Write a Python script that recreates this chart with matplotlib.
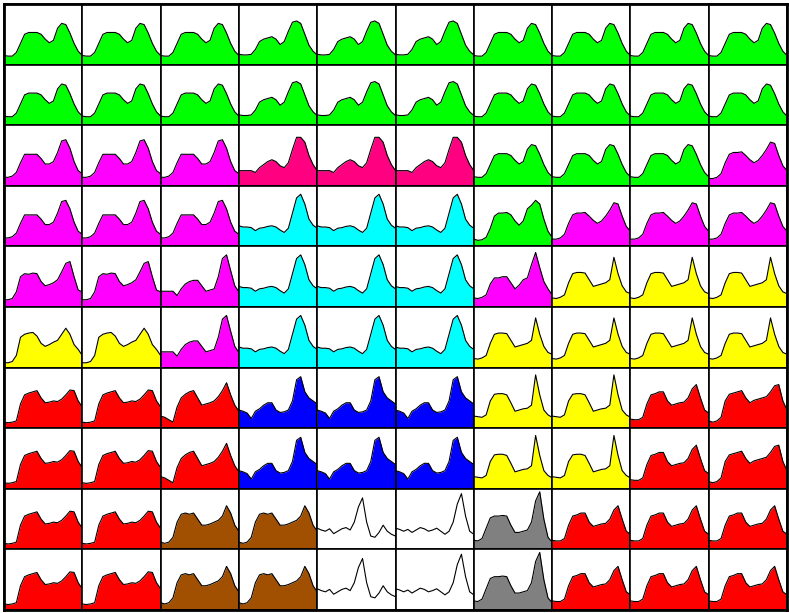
import numpy as np
from matplotlib import pyplot as plt

# codebook profiles (fraction of cell height, 20 samples each)
green_a = [0.15, 0.14, 0.14, 0.20, 0.35, 0.50, 0.53, 0.53, 0.53, 0.50, 0.42, 0.36, 0.40, 0.60, 0.68, 0.66, 0.52, 0.35, 0.22, 0.15]
green_b = [0.17, 0.16, 0.16, 0.17, 0.25, 0.38, 0.42, 0.44, 0.46, 0.42, 0.33, 0.38, 0.55, 0.70, 0.72, 0.68, 0.50, 0.32, 0.22, 0.16]
green_c = [0.12, 0.10, 0.11, 0.15, 0.30, 0.50, 0.55, 0.55, 0.56, 0.52, 0.42, 0.35, 0.42, 0.62, 0.68, 0.76, 0.70, 0.45, 0.25, 0.15]
magenta_a = [0.14, 0.14, 0.16, 0.22, 0.38, 0.52, 0.52, 0.52, 0.52, 0.45, 0.36, 0.36, 0.40, 0.55, 0.74, 0.76, 0.62, 0.40, 0.25, 0.20]
magenta_b = [0.12, 0.12, 0.14, 0.20, 0.38, 0.52, 0.55, 0.55, 0.56, 0.50, 0.43, 0.38, 0.42, 0.50, 0.60, 0.72, 0.70, 0.50, 0.33, 0.25]
magenta_c = [0.12, 0.12, 0.14, 0.25, 0.50, 0.55, 0.54, 0.56, 0.55, 0.42, 0.35, 0.37, 0.40, 0.45, 0.58, 0.72, 0.75, 0.50, 0.28, 0.25]
magenta_d = [0.26, 0.26, 0.26, 0.26, 0.19, 0.30, 0.38, 0.42, 0.44, 0.44, 0.35, 0.26, 0.28, 0.30, 0.50, 0.80, 0.86, 0.60, 0.35, 0.25]
magenta_e = [0.15, 0.14, 0.16, 0.20, 0.38, 0.48, 0.48, 0.50, 0.50, 0.40, 0.30, 0.36, 0.45, 0.48, 0.70, 0.90, 0.65, 0.42, 0.30, 0.20]
pink = [0.25, 0.25, 0.25, 0.25, 0.22, 0.30, 0.35, 0.40, 0.43, 0.40, 0.33, 0.30, 0.38, 0.60, 0.80, 0.80, 0.72, 0.50, 0.35, 0.25]
cyan = [0.34, 0.32, 0.32, 0.31, 0.26, 0.30, 0.31, 0.33, 0.34, 0.32, 0.27, 0.23, 0.30, 0.55, 0.80, 0.86, 0.70, 0.45, 0.35, 0.30]
yellow_a = [0.15, 0.14, 0.16, 0.20, 0.40, 0.55, 0.57, 0.57, 0.56, 0.45, 0.34, 0.36, 0.38, 0.40, 0.45, 0.82, 0.55, 0.35, 0.25, 0.22]
yellow_b = [0.08, 0.08, 0.10, 0.20, 0.50, 0.55, 0.57, 0.58, 0.52, 0.40, 0.35, 0.38, 0.42, 0.45, 0.55, 0.65, 0.55, 0.38, 0.30, 0.20]
yellow_c = [0.20, 0.19, 0.18, 0.22, 0.45, 0.56, 0.57, 0.57, 0.55, 0.42, 0.28, 0.30, 0.32, 0.33, 0.38, 0.88, 0.55, 0.30, 0.22, 0.18]
red_a = [0.10, 0.09, 0.10, 0.12, 0.40, 0.55, 0.58, 0.60, 0.62, 0.50, 0.42, 0.43, 0.45, 0.44, 0.48, 0.55, 0.63, 0.62, 0.45, 0.35]
red_b = [0.20, 0.18, 0.14, 0.10, 0.35, 0.50, 0.56, 0.60, 0.62, 0.50, 0.38, 0.40, 0.42, 0.45, 0.52, 0.62, 0.75, 0.55, 0.38, 0.28]
red_c = [0.15, 0.14, 0.14, 0.18, 0.40, 0.55, 0.57, 0.60, 0.60, 0.45, 0.38, 0.40, 0.42, 0.43, 0.50, 0.65, 0.72, 0.50, 0.30, 0.25]
red_d = [0.12, 0.10, 0.12, 0.18, 0.45, 0.56, 0.58, 0.60, 0.62, 0.50, 0.42, 0.46, 0.48, 0.50, 0.52, 0.60, 0.70, 0.72, 0.45, 0.30]
blue = [0.30, 0.28, 0.25, 0.16, 0.28, 0.32, 0.38, 0.42, 0.42, 0.30, 0.26, 0.27, 0.30, 0.45, 0.80, 0.85, 0.60, 0.50, 0.45, 0.40]
brown = [0.12, 0.10, 0.12, 0.20, 0.45, 0.58, 0.60, 0.58, 0.60, 0.50, 0.40, 0.40, 0.42, 0.45, 0.48, 0.55, 0.72, 0.60, 0.40, 0.30]
white_a = [0.35, 0.32, 0.30, 0.34, 0.26, 0.30, 0.34, 0.36, 0.32, 0.45, 0.70, 0.85, 0.45, 0.22, 0.20, 0.28, 0.40, 0.30, 0.25, 0.22]
white_b = [0.35, 0.33, 0.30, 0.33, 0.28, 0.32, 0.36, 0.34, 0.30, 0.32, 0.35, 0.30, 0.25, 0.30, 0.45, 0.75, 0.92, 0.55, 0.30, 0.25]
gray = [0.15, 0.14, 0.18, 0.35, 0.52, 0.55, 0.55, 0.56, 0.55, 0.40, 0.28, 0.28, 0.30, 0.32, 0.45, 0.80, 0.95, 0.50, 0.20, 0.12]

profiles = {
    'ga': green_a, 'gb': green_b, 'gc': green_c,
    'ma': magenta_a, 'mb': magenta_b, 'mc': magenta_c, 'md': magenta_d, 'me': magenta_e,
    'pk': pink, 'cy': cyan,
    'ya': yellow_a, 'yb': yellow_b, 'yc': yellow_c,
    'ra': red_a, 'rb': red_b, 'rc': red_c, 'rd': red_d,
    'bl': blue, 'br': brown, 'wa': white_a, 'wb': white_b, 'gr': gray,
}

colors = {
    'g': '#00ff00', 'm': '#ff00ff', 'p': '#ff0080', 'c': '#00ffff', 'y': '#ffff00',
    'r': '#ff0000', 'b': '#0000ff', 'n': '#a05000', 'w': '#ffffff', 'k': '#808080',
}

# which profile sits in each cell of the 10x10 map
layout = [
    ['ga', 'ga', 'ga', 'gb', 'gb', 'gb', 'ga', 'ga', 'ga', 'ga'],
    ['ga', 'ga', 'ga', 'gb', 'gb', 'gb', 'ga', 'ga', 'ga', 'ga'],
    ['ma', 'ma', 'ma', 'pk', 'pk', 'pk', 'ga', 'ga', 'ga', 'mb'],
    ['ma', 'ma', 'ma', 'cy', 'cy', 'cy', 'gc', 'mb', 'mb', 'mb'],
    ['mc', 'mc', 'md', 'cy', 'cy', 'cy', 'me', 'ya', 'ya', 'ya'],
    ['yb', 'yb', 'md', 'cy', 'cy', 'cy', 'ya', 'ya', 'ya', 'ya'],
    ['ra', 'ra', 'rb', 'bl', 'bl', 'bl', 'yc', 'yc', 'rc', 'rd'],
    ['ra', 'ra', 'rb', 'bl', 'bl', 'bl', 'yc', 'yc', 'rc', 'rd'],
    ['ra', 'ra', 'br', 'br', 'wa', 'wb', 'gr', 'rc', 'rc', 'rc'],
    ['ra', 'ra', 'br', 'br', 'wa', 'wb', 'gr', 'rc', 'rc', 'rc'],
]
cell_colors = [
    'gggggggggg',
    'gggggggggg',
    'mmmpppgggm',
    'mmmcccgmmm',
    'mmmcccmyyy',
    'yymcccyyyy',
    'rrrbbbyyrr',
    'rrrbbbyyrr',
    'rrnnwwkrrr',
    'rrnnwwkrrr',
]

fig = plt.figure(figsize=(7.89, 6.13), dpi=100)
gs = fig.add_gridspec(10, 10, left=4 / 789, right=787 / 789, bottom=3 / 613, top=1 - 4 / 613,
                      wspace=0, hspace=0)

x = np.linspace(0, 1, 20)
for i in range(10):
    for j in range(10):
        ax = fig.add_subplot(gs[i, j])
        y = profiles[layout[i][j]]
        ax.fill_between(x, y, 0, color=colors[cell_colors[i][j]], linewidth=0)
        ax.plot(x, y, color='black', linewidth=0.8)
        ax.set_xlim(0, 1)
        ax.set_ylim(0, 1)
        ax.set_xticks([])
        ax.set_yticks([])
        for s in ax.spines.values():
            s.set_linewidth(1.2)

# heavier outer frame
frame = fig.add_axes([4 / 789, 3 / 613, 783 / 789, 606 / 613], facecolor='none')
frame.set_xticks([])
frame.set_yticks([])
for s in frame.spines.values():
    s.set_linewidth(2)

fig.savefig('out.png', dpi=100)
plt.close(fig)
